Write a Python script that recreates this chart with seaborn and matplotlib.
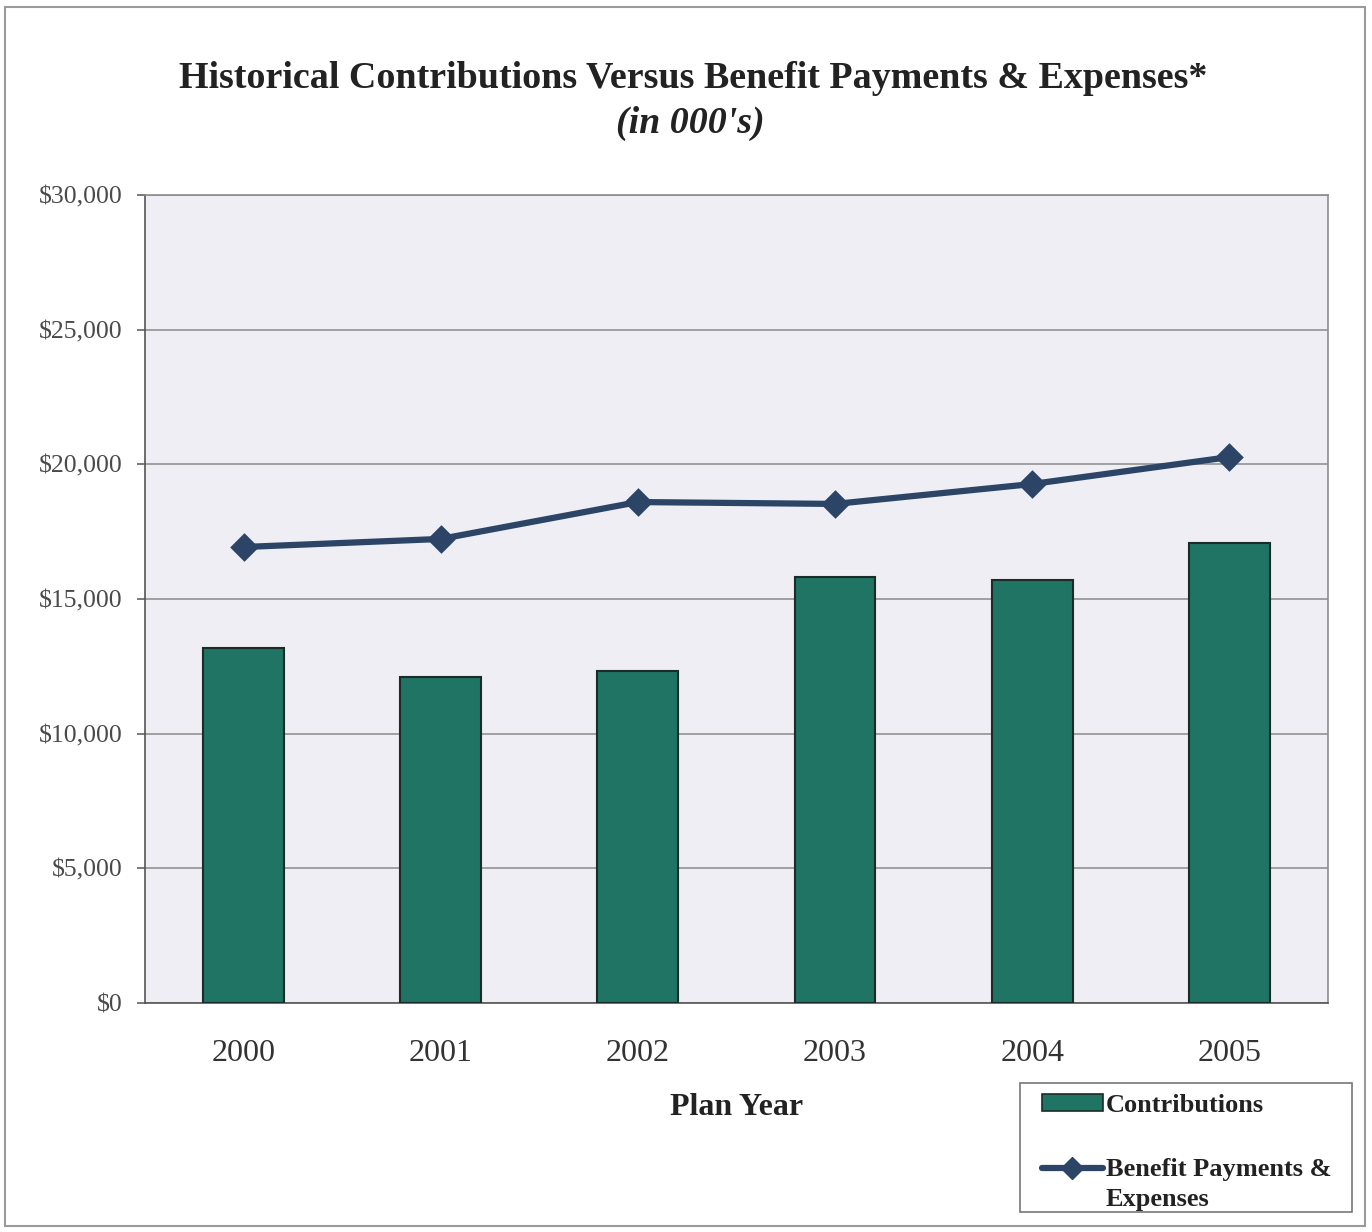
import matplotlib
matplotlib.use("Agg")
import matplotlib.pyplot as plt
from matplotlib.patches import Rectangle, Patch
from matplotlib.lines import Line2D
from matplotlib.legend_handler import HandlerLine2D
from matplotlib.ticker import FuncFormatter, MultipleLocator
import seaborn as sns
import pandas as pd

years = ["2000", "2001", "2002", "2003", "2004", "2005"]
contributions = [13180, 12100, 12330, 15820, 15710, 17080]
benefits_expenses = [16930, 17230, 18600, 18530, 19270, 20270]

df = pd.DataFrame({"Plan Year": years,
                   "Contributions": contributions,
                   "Benefit Payments & Expenses": benefits_expenses})

sns.set_theme(style="white")
plt.rcParams["font.family"] = ["Liberation Serif", "DejaVu Serif"]

bar_color = "#1f7464"
line_color = "#2c4566"
text_color = "#222222"


class RaisedLineHandler(HandlerLine2D):
    """Line handle aligned with the first line of a two-line label."""

    def create_artists(self, legend, orig_handle, xdescent, ydescent, width,
                       height, fontsize, trans):
        arts = super().create_artists(legend, orig_handle, xdescent, ydescent,
                                      width, height, fontsize, trans)
        for a in arts:
            a.set_ydata([y + 0.64 * fontsize for y in a.get_ydata()])
        return arts


fig = plt.figure(figsize=(13.72, 12.32), dpi=100)
fig.patch.set_facecolor("white")
ax = fig.add_axes([0.1057, 0.1859, 0.9679 - 0.1057, 0.8417 - 0.1859])
ax.set_facecolor("#eeeef4")

sns.barplot(data=df, x="Plan Year", y="Contributions", color=bar_color,
            width=0.41, edgecolor="#1b2b28", linewidth=1.5, saturation=1,
            ax=ax, zorder=3)
sns.pointplot(data=df, x="Plan Year", y="Benefit Payments & Expenses",
              color=line_color, markers="D", linestyles="-", ax=ax,
              markersize=11, linewidth=4.5, zorder=4)

ax.set_xlim(-0.5, 5.5)
ax.set_ylim(0, 30000)
ax.yaxis.set_major_locator(MultipleLocator(5000))
ax.yaxis.set_major_formatter(FuncFormatter(lambda v, p: f"${v:,.0f}"))
ax.grid(axis="y", color="#8a8a8a", linewidth=1.1, zorder=0)
ax.set_axisbelow(True)

for s in ax.spines.values():
    s.set_color("#8c8c8c")
    s.set_linewidth(1.2)
ax.spines["left"].set_color("#555555")
ax.spines["bottom"].set_color("#555555")

ax.tick_params(axis="y", direction="out", length=6, width=1.1, color="#555555",
               labelsize=18.5, labelcolor="#4a4a4a", pad=10, left=True)
ax.tick_params(axis="x", length=0, labelsize=23, labelcolor="#333333", pad=26)
ax.set_ylabel("")
ax.set_xlabel("Plan Year", fontsize=23, fontweight="bold", color=text_color,
              labelpad=18)

fig.text(0.505, 0.936, "Historical Contributions Versus Benefit Payments & Expenses*",
         ha="center", va="center", fontsize=27.4, fontweight="bold", color=text_color)
fig.text(0.503, 0.900, "(in 000's)", ha="center", va="center", fontsize=27.4,
         fontweight="bold", fontstyle="italic", color=text_color)

# legend box below the plot, at the right
fig.patches.append(Rectangle((0.7434, 0.0162), 0.242, 0.1047,
                             transform=fig.transFigure, facecolor="white",
                             edgecolor="#777777", linewidth=1.2, zorder=1))

handles = [Patch(facecolor=bar_color, edgecolor="#1b2b28", linewidth=1.2),
           Line2D([0], [0], color=line_color, linewidth=4.5, marker="D",
                  markersize=11)]
leg = fig.legend(handles, ["Contributions", "Benefit Payments &\nExpenses"],
                 loc="upper left", bbox_to_anchor=(0.7595, 0.112),
                 borderaxespad=0, borderpad=0, frameon=False,
                 handlelength=2.3, handleheight=0.6, handletextpad=0.12,
                 labelspacing=1.55,
                 handler_map={Line2D: RaisedLineHandler()},
                 prop={"family": "Liberation Serif", "weight": "bold", "size": 19})
leg.set_zorder(2)
for t in leg.get_texts():
    t.set_color(text_color)
    t.set_linespacing(1.4)

fig.patches.append(Rectangle((0.004, 0.005), 0.991, 0.989, transform=fig.transFigure,
                             fill=False, edgecolor="#9a9a9a", linewidth=1.5))

fig.savefig("out.png", dpi=100)
